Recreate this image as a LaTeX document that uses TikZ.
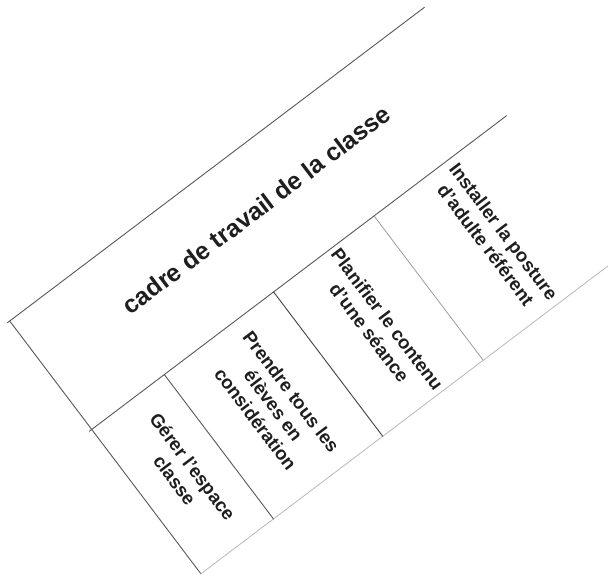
\documentclass[tikz,border=0pt]{standalone}
\usepackage{fontspec}
\setmainfont{Liberation Sans}
\usepackage{xcolor}
\usepackage{tikz}
\usetikzlibrary{calc}
\definecolor{rule}{HTML}{5C5C5C}
\definecolor{ruledark}{HTML}{454545}
\definecolor{rulelight}{HTML}{9C9C9C}
\definecolor{rulefaint}{HTML}{B8B8B8}
\definecolor{ink}{HTML}{1E1E1E}
\tikzset{
  edge/.style={draw=rule, line width=0.7pt, line cap=round},
  edgedark/.style={draw=ruledark, line width=0.7pt, line cap=round},
  edgelight/.style={draw=rulelight, line width=0.6pt, line cap=round},
  edgefaint/.style={draw=rulefaint, line width=0.6pt, line cap=round},
  head/.style={text=ink, inner sep=0pt, rotate=37.1, font=\bfseries\fontsize{18.6}{22}\selectfont},
  cell/.style={text=ink, inner sep=0pt, rotate=-52.9, align=center, font=\bfseries\fontsize{14}{16.8}\selectfont},
}

\begin{document}
\begin{tikzpicture}[x=0.75pt, y=0.75pt]
  \useasboundingbox (0,0) rectangle (608,575);
  \clip (0,0) rectangle (608,575);
  \begin{scope}[shift={(9.7,254)}, rotate=37.1]
    \coordinate (TL) at (-3,0);
    \coordinate (TR) at (520,0);
    \coordinate (ML) at (-3,-136);
    \coordinate (MR) at (520,-136);
    \coordinate (C0) at (0,0);
    \coordinate (BL) at (0,-317);
    \coordinate (BR) at (520,-317);
    \draw[edge] (TL)--(TR);
    \draw[edge] (C0)--(BL);
    \draw[edge] (ML)--(MR);
    \draw[edgefaint] (BL)--(BR);
    \draw[edge] (91,-136)--(91,-317);
    \draw[edgedark] (228,-136)--(228,-317);
    \draw[edgelight] (354,-136)--(354,-317);
    \node[head] (cadre) at (264,-60) {cadre de travail de la classe};
    \node[cell] (gerer) at (47,-226.5) {Gérer l'espace\\classe};
    \node[cell] (prendre) at (159.5,-226.5) {Prendre tous les\\élèves en\\considération};
    \node[cell] (planifier) at (291,-226.5) {Planifier le contenu\\d'une séance};
    \node[cell] (installer) at (437,-226.5) {Installer la posture\\d'adulte référent};
  \end{scope}
\end{tikzpicture}
\end{document}
